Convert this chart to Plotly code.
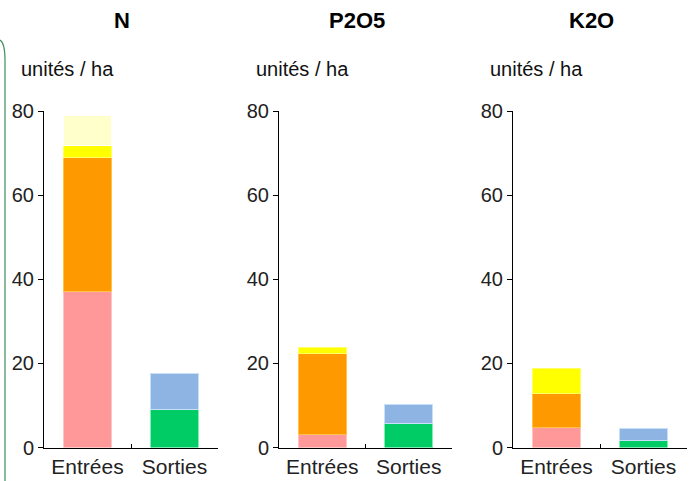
import plotly.graph_objects as go

categories = ["Entrées", "Sorties"]
elements = ["N", "P2O5", "K2O"]

# Entrées components (stacked bottom to top)
entree_pink = [37.0, 3.0, 4.8]
entree_orange = [32.0, 19.3, 8.0]
entree_yellow = [2.7, 1.4, 6.0]
entree_lightyellow = [7.3, 0.0, 0.0]
# Sorties components
sortie_green = [9.0, 5.8, 1.7]
sortie_blue = [8.5, 4.4, 2.7]

yticks = [0, 20, 40, 60, 80]
unit_label = "unités / ha"

FONT = "Liberation Sans, Arial, sans-serif"
W, H = 692, 481

series = [
    ("Entrée 1", entree_pink, 0, "#FF9999", "#FFC4C4"),
    ("Entrée 2", entree_orange, 0, "#FF9900", "#FFC24D"),
    ("Entrée 3", entree_yellow, 0, "#FFFF00", "#FFFF66"),
    ("Entrée 4", entree_lightyellow, 0, "#FFFFCC", "#FFFFFF"),
    ("Sortie 1", sortie_green, 1, "#00CC66", "#7FF0B0"),
    ("Sortie 2", sortie_blue, 1, "#8EB4E3", "#C6E0F8"),
]

x_px = [(44, 218), (279, 452), (513, 687)]
y_top, y_bot = 111, 447.5

fig = go.Figure()
for i, el in enumerate(elements):
    xa = "x" if i == 0 else f"x{i+1}"
    ya = "y" if i == 0 else f"y{i+1}"
    for name, vals, cat, col, edge in series:
        v = vals[i]
        yv = [None, None]
        if v > 0:
            yv[cat] = v
        fig.add_trace(go.Bar(
            x=categories, y=yv, name=name, xaxis=xa, yaxis=ya,
            marker=dict(color=col, line=dict(color=edge, width=1)),
            showlegend=False, hoverinfo="skip"))

layout = dict(
    width=W, height=H, barmode="stack", bargap=0.45,
    paper_bgcolor="white", plot_bgcolor="white",
    margin=dict(l=0, r=0, t=0, b=0, pad=0),
    font=dict(family=FONT, size=20, color="#222222"),
    showlegend=False,
)
annotations = []
for i, el in enumerate(elements):
    sx = "" if i == 0 else str(i + 1)
    x0, x1 = x_px[i]
    layout[f"xaxis{sx}"] = dict(
        domain=[x0 / W, x1 / W], anchor=f"y{sx}",
        showline=True, linecolor="black", linewidth=1,
        ticks="inside", tickson="boundaries", ticklen=4, tickcolor="black",
        showgrid=False, zeroline=False, automargin=False,
        tickfont=dict(size=21, color="#222222"),
    )
    layout[f"yaxis{sx}"] = dict(
        domain=[(H - y_bot) / H, 1 - y_top / H], anchor=f"x{sx}", range=[0, 80],
        tickvals=yticks, showline=True, linecolor="black", linewidth=1,
        ticks="outside", ticklen=5, tickcolor="black",
        showgrid=False, zeroline=False, automargin=False,
        tickfont=dict(size=20, color="#222222"),
    )
    cx = (x0 + x1) / 2 - 9
    annotations.append(dict(
        text=f"<b>{el}</b>", x=cx / W, y=1 - 20 / H, xref="paper", yref="paper",
        showarrow=False, font=dict(size=22, color="black"),
        xanchor="center", yanchor="middle"))
    annotations.append(dict(
        text=unit_label, x=(x0 - 25) / W, y=1 - 69 / H, xref="paper", yref="paper",
        showarrow=False, font=dict(size=20, color="#111111"),
        xanchor="left", yanchor="middle"))
layout["annotations"] = annotations
layout["shapes"] = [dict(
    type="path", xref="paper", yref="paper",
    path=f"M 0,{1-40/H} Q {5/W},{1-43/H} {5/W},{1-60/H} L {5/W},0",
    line=dict(color="#3E8E5E", width=1.2))]
fig.update_layout(**layout)
fig.write_html("out.html", config={"displayModeBar": False},
               post_script="document.body.style.margin='0';document.body.style.overflow='hidden';")
